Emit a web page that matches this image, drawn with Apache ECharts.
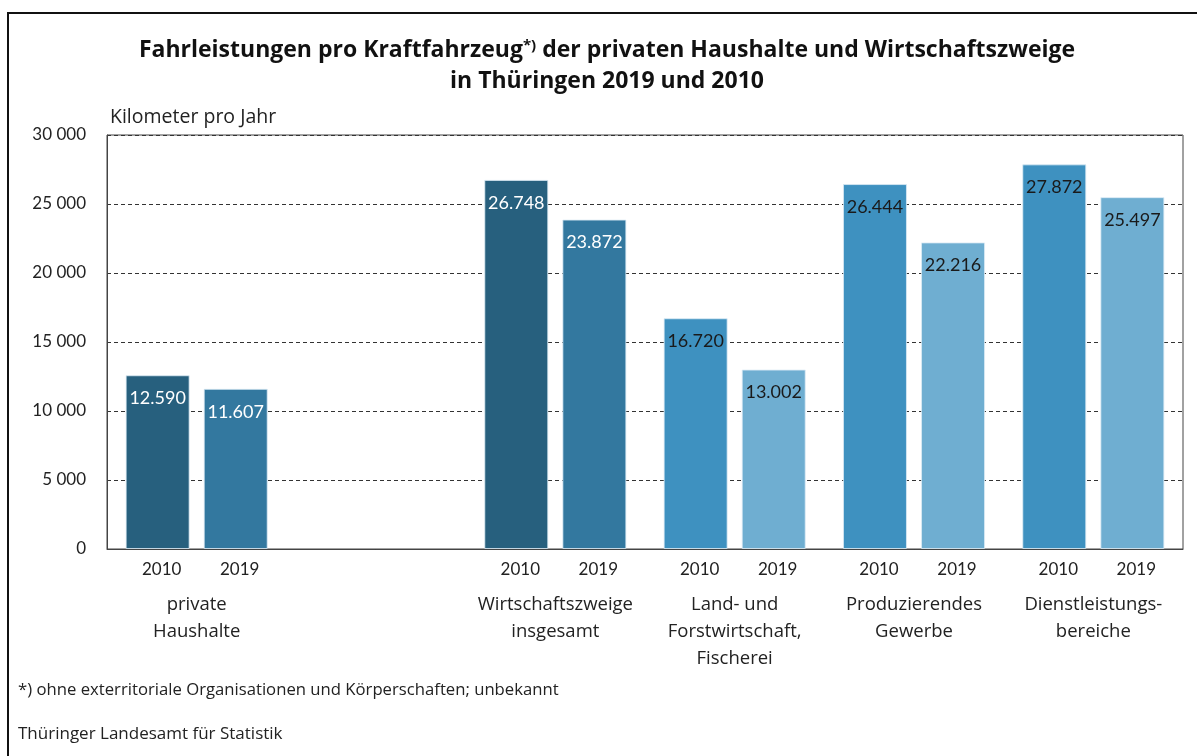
<!DOCTYPE html>
<html><head><meta charset="utf-8">
<script src="https://cdn.jsdelivr.net/npm/echarts@6/dist/echarts.min.js"></script>
<style>html,body{margin:0;padding:0;background:#fff}#c{width:1197px;height:756px}</style>
</head><body><div id="c"></div>
<script>
const groups = ['private\nHaushalte', '', 'Wirtschaftszweige\ninsgesamt', 'Land- und\nForstwirtschaft,\nFischerei', 'Produzierendes\nGewerbe', 'Dienstleistungs-\nbereiche'];
const years = ['2010', '2019'];
const values2010 = [12590, null, 26748, 16720, 26444, 27872];
const values2019 = [11607, null, 23872, 13002, 22216, 25497];
const colors2010 = ['#27607e', null, '#27607e', '#3e91c0', '#3e91c0', '#3e91c0'];
const colors2019 = ['#33789f', null, '#33789f', '#6faed1', '#6faed1', '#6faed1'];
const labelColors = ['#ffffff', null, '#ffffff', '#1a1a1a', '#1a1a1a', '#1a1a1a'];
const yTicks = [0, 5000, 10000, 15000, 20000, 25000, 30000];

const FONT = 'Lato';
const TFONT = 'Open Sans';
function deNum(v){ return String(v).replace(/\B(?=(\d{3})+(?!\d))/g, '.'); }
function spNum(v){ return String(v).replace(/\B(?=(\d{3})+(?!\d))/g, ' '); }

function mkData(vals, cols){
  return vals.map((v,i)=> v==null ? null : ({
    value: v,
    itemStyle: {color: cols[i]},
    label: {color: labelColors[i]}
  }));
}

const chart = echarts.init(document.getElementById('c'), null, {renderer:'canvas'});
chart.setOption({
  animation: false,
  backgroundColor: '#fff',
  textStyle: {fontFamily: FONT},
  title: {
    left: 607, textAlign: 'center', top: 35, padding: 0,
    text: 'Fahrleistungen pro Kraftfahrzeug{sup|*)} der privaten Haushalte und Wirtschaftszweige\nin Thüringen 2019 und 2010',
    textStyle: {
      fontFamily: TFONT, fontSize: 23, fontWeight: 'bold', color: '#111', lineHeight: 31,
      rich: {
        sup: {fontFamily: TFONT, fontSize: 15, fontWeight: 'bold', color: '#111', lineHeight: 15, verticalAlign: 'top', padding: [3,0,0,0]}
      }
    }
  },
  grid: {left: 107, right: 14, top: 135, bottom: 207, show: true, borderColor: '#444', borderWidth: 1},
  xAxis: {
    type: 'category', data: groups,
    axisLine: {show: true, lineStyle: {color: '#444'}},
    axisTick: {show: false},
    axisLabel: {
      interval: 0, margin: 0, color: '#222', fontFamily: FONT,
      formatter: function(name){
        if (!name) return '';
        const lines = name.split('\n').map(l => '{n|' + l + '}').join('\n');
        return '{p|}{y|' + years[0] + '}{s|}{y|' + years[1] + '}\n' + lines;
      },
      rich: {
        p: {width: 8, lineHeight: 42, align: 'center'},
        y: {fontSize: 17, width: 64, align: 'center', lineHeight: 42, color: '#222', fontFamily: FONT},
        s: {width: 14, lineHeight: 42, align: 'center'},
        n: {fontSize: 18.5, lineHeight: 27, align: 'center', color: '#222', fontFamily: TFONT}
      }
    }
  },
  yAxis: {
    type: 'value', min: yTicks[0], max: yTicks[yTicks.length-1], interval: yTicks[1]-yTicks[0],
    name: 'Kilometer pro Jahr', nameLocation: 'end', nameGap: 8,
    nameTextStyle: {align: 'left', fontSize: 19.5, color: '#222', fontFamily: TFONT, padding: [0,0,0,3]},
    axisLine: {show: true, lineStyle: {color: '#444'}},
    axisTick: {show: false},
    axisLabel: {fontSize: 17, color: '#222', margin: 21, fontFamily: FONT, formatter: v => spNum(v)},
    splitLine: {show: true, lineStyle: {color: '#333', type: [4,3], width: 1}}
  },
  series: [
    {type: 'bar', name: years[0], data: mkData(values2010, colors2010), barWidth: 64, barGap: '22%',
     itemStyle: {borderColor: 'rgba(220,235,245,0.8)', borderWidth: 1},
     label: {show: true, position: 'insideTop', distance: 14, fontSize: 18, fontFamily: FONT, formatter: p => deNum(p.value)}},
    {type: 'bar', name: years[1], data: mkData(values2019, colors2019), barWidth: 64, barGap: '22%',
     itemStyle: {borderColor: 'rgba(220,235,245,0.8)', borderWidth: 1},
     label: {show: true, position: 'insideTop', distance: 14, fontSize: 18, fontFamily: FONT, formatter: p => deNum(p.value)}}
  ],
  graphic: [
    {type: 'rect', shape: {x: 8, y: 13, width: 1200, height: 800}, style: {fill: 'none', stroke: '#111', lineWidth: 2}, silent: true},
    {type: 'text', left: 18, top: 682, style: {text: '*) ohne exterritoriale Organisationen und Körperschaften; unbekannt', fontSize: 16.7, fill: '#222', fontFamily: TFONT}},
    {type: 'text', left: 18, top: 726, style: {text: 'Thüringer Landesamt für Statistik', fontSize: 17, fill: '#222', fontFamily: TFONT}}
  ]
});
</script></body></html>
